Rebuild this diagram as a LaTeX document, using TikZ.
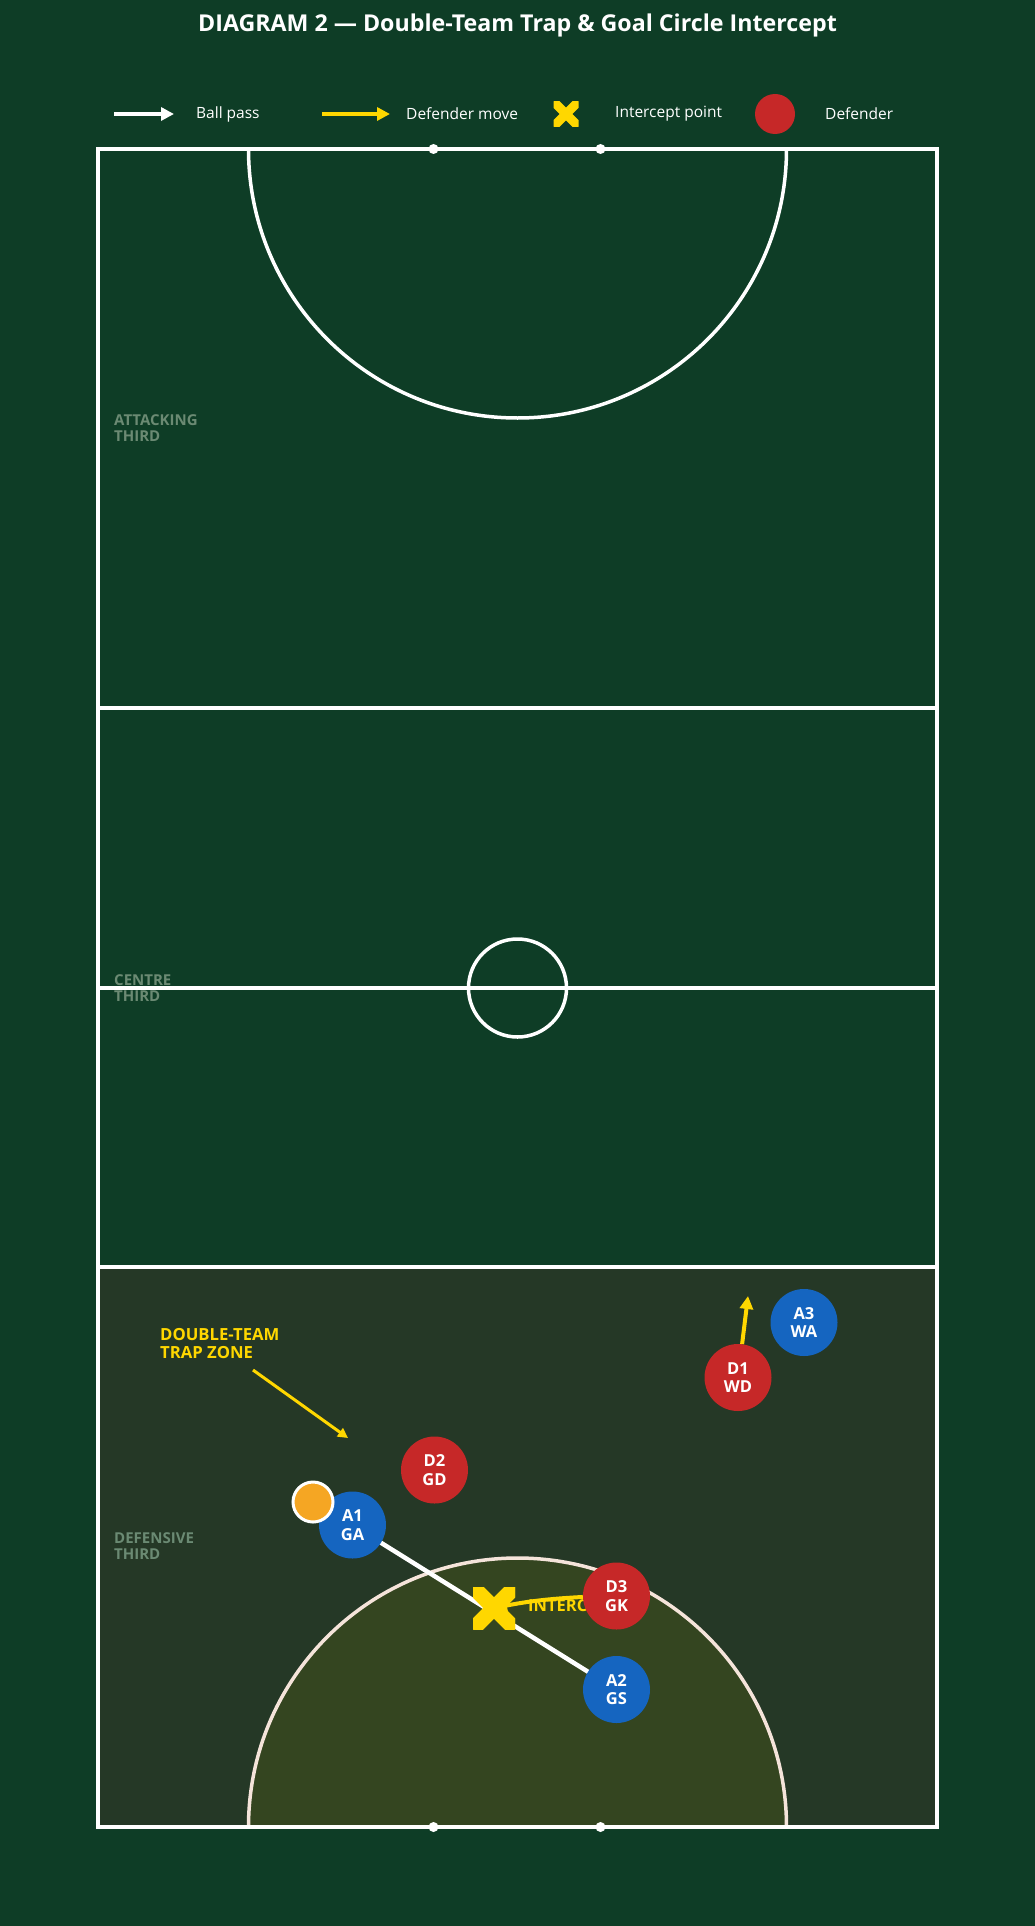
\documentclass[tikz,border=0pt]{standalone}
\usepackage{fontspec}
\setmainfont{Open Sans}
\usetikzlibrary{positioning}
\usetikzlibrary{calc}
\usetikzlibrary{arrows.meta}
\definecolor{pitch}{RGB}{14,61,38}
\definecolor{defzone}{RGB}{37,56,38}
\definecolor{circfill}{RGB}{52,69,32}
\definecolor{circline}{RGB}{245,228,218}
\definecolor{defred}{RGB}{198,40,40}
\definecolor{attblue}{RGB}{21,101,192}
\definecolor{ballorange}{RGB}{245,166,35}
\definecolor{trapyellow}{RGB}{255,215,0}
\definecolor{thirdgrey}{RGB}{107,138,115}

\tikzset{
  player/.style={circle, minimum size=67pt, inner sep=0pt, text=white,
    font=\fontsize{16.5}{18.5}\selectfont\bfseries, align=center},
  defender/.style={player, fill=defred},
  attacker/.style={player, fill=attblue},
  thirdlabel/.style={anchor=north west, inner sep=0pt, text=thirdgrey,
    font=\fontsize{15}{16.5}\selectfont\bfseries, align=left},
  legendtext/.style={anchor=west, inner sep=0pt, text=white,
    font=\fontsize{15.5}{18}\selectfont},
  courtline/.style={white, line width=3.5pt},
  passarrow/.style={white, line width=4pt, -{Triangle[length=13pt,width=13pt]}},
  movearrow/.style={trapyellow, line width=4pt, -{Triangle[length=13pt,width=13pt]}},
  xmark/.style={minimum size=#1, inner sep=0pt,
    path picture={\draw[trapyellow, line width=0.36*#1]
      (path picture bounding box.north west) -- (path picture bounding box.south east)
      (path picture bounding box.north east) -- (path picture bounding box.south west);}},
}

\begin{document}
\begin{tikzpicture}[x=1pt, y=-1pt]
  \fill [pitch] (0,0) rectangle (1035,1926);
  \useasboundingbox (0,0) rectangle (1035,1926);

  % title and legend
  \node (title) [text=white, font=\fontsize{23.2}{26}\selectfont\bfseries] at (517.5,25)
    {DIAGRAM 2 — Double-Team Trap \& Goal Circle Intercept};

  \coordinate (passfrom) at (114,114);
  \coordinate (passto) at (174,114);
  \draw [passarrow] (passfrom) -- (passto);
  \node (passtext) [legendtext] at (196,114) {Ball pass};
  \coordinate (movefrom) at (322,114);
  \coordinate (moveto) at (390,114);
  \draw [movearrow] (movefrom) -- (moveto);
  \node (movetext) [legendtext] at (406,114) {Defender move};
  \node (legx) [xmark=25pt] at (566,114) {};
  \node (xtext) [legendtext] at (615,114) {Intercept point};
  \node (legdef) [circle, fill=defred, minimum size=40pt, inner sep=0pt] at (775,114) {};
  \node (deftext) [legendtext] at (825,114) {Defender};

  % court
  \fill [defzone] (98,1267) rectangle (937,1827);
  \begin{scope}
    \clip (98,149) rectangle (937,1827);
    \fill [circfill] (517.5,1827) circle [radius=269pt];
    \draw [courtline] (517.5,149) circle [radius=269pt];
    \draw [courtline, circline] (517.5,1827) circle [radius=269pt];
  \end{scope}
  \draw [courtline] (98,708) -- (937,708);
  \draw [courtline] (98,1267) -- (937,1267);
  \draw [courtline] (98,988) -- (937,988);
  \draw [courtline] (517.5,988) circle [radius=49pt];
  \draw [courtline] (98,149) rectangle (937,1827);
  \foreach \px in {433.5,600.5} {
    \fill [white] (\px,149) circle [radius=5pt];
    \fill [white] (\px,1827) circle [radius=5pt];
  }

  \node (attlabel) [thirdlabel] at (114,414) {ATTACKING\\THIRD};
  \node (cenlabel) [thirdlabel] at (114,974) {CENTRE\\THIRD};
  \node (deflabel) [thirdlabel] at (114,1532) {DEFENSIVE\\THIRD};

  % trap zone note
  \node (traplabel) [anchor=north west, inner sep=0pt, text=trapyellow, align=left,
    font=\fontsize{16.7}{18.5}\selectfont\bfseries] at (160,1328) {DOUBLE-TEAM\\TRAP ZONE};
  \coordinate (trapfrom) at (253,1370);
  \coordinate (trapto) at (348,1438);
  \draw [trapyellow, line width=3pt, -{Triangle[length=10pt,width=10pt]}] (trapfrom) -- (trapto);

  % players
  \coordinate (a1pos) at (352.5,1525);
  \coordinate (a2pos) at (616.5,1689.5);
  \draw [white, line width=4.5pt] (a1pos) -- (a2pos);

  \node (intercept) [xmark=42pt] at (494,1608) {};
  \node (intlabel) [anchor=west, inner sep=0pt, text=trapyellow,
    font=\fontsize{16.5}{18.5}\selectfont\bfseries] at (528,1606) {INTERCEPT};

  \node (d3) [defender] at (616.5,1596) {D3\\GK};
  \draw [movearrow] (d3) to [bend right=4] (intercept.center);
  \node [xmark=42pt] at (intercept) {};

  \node (a1) [attacker] at (a1pos) {A1\\GA};
  \node (ball) [circle, fill=ballorange, draw=white, line width=3pt,
    minimum size=40pt, inner sep=0pt] at (313,1502) {};
  \node (a2) [attacker] at (a2pos) {A2\\GS};
  \node (d2) [defender] at (434.5,1470) {D2\\GD};
  \node (d1) [defender] at (738,1377.5) {D1\\WD};
  \node (a3) [attacker] at (804,1322.5) {A3\\WA};
  \coordinate (d1move) at (748,1296);
  \draw [movearrow] (d1) -- (d1move);
\end{tikzpicture}
\end{document}
